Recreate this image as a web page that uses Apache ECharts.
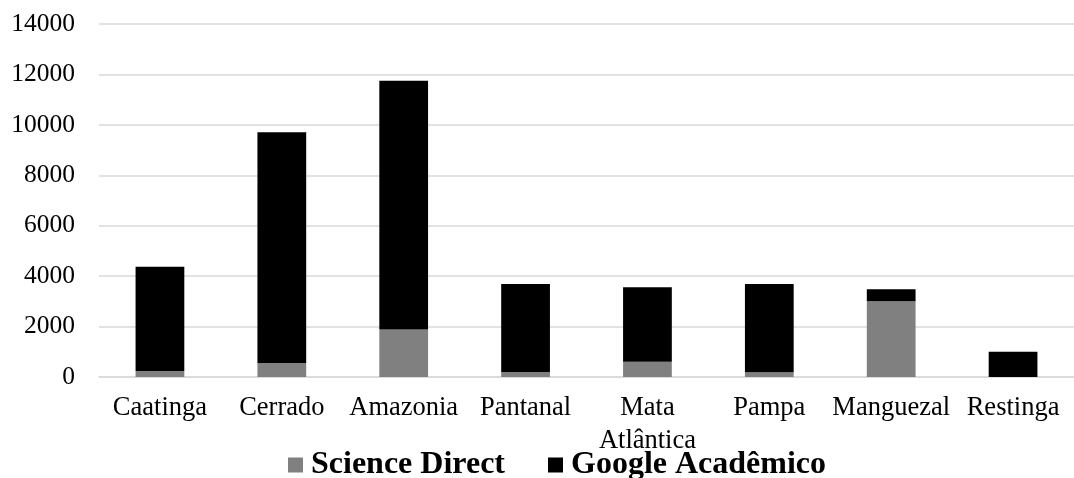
<!DOCTYPE html>
<html>
<head>
<meta charset="utf-8">
<script src="https://cdn.jsdelivr.net/npm/echarts@6/dist/echarts.min.js"></script>
<style>
  html, body { margin: 0; padding: 0; background: #ffffff; }
  #chart { width: 1074px; height: 478px; }
</style>
</head>
<body>
<div id="chart"></div>
<script>
// Biomes on the category axis
const biomes = ['Caatinga', 'Cerrado', 'Amazonia', 'Pantanal', 'Mata\nAtlântica', 'Pampa', 'Manguezal', 'Restinga'];
// Publication counts per source (stacked)
const scienceDirect = [240, 560, 1880, 200, 600, 190, 3000, 0];
const googleAcademico = [4130, 9150, 9870, 3490, 2960, 3500, 480, 1000];
// Value axis ticks
const yTicks = [0, 2000, 4000, 6000, 8000, 10000, 12000, 14000];

const FONT = '"Liberation Serif", "Times New Roman", serif';

const chart = echarts.init(document.getElementById('chart'), null, { renderer: 'canvas' });

chart.setOption({
  animation: false,
  backgroundColor: '#ffffff',
  textStyle: { fontFamily: FONT },
  grid: { left: 99, top: 24, width: 976, bottom: 101, containLabel: false },
  legend: {
    left: 288,
    top: 449,
    padding: 0,
    itemWidth: 15,
    itemHeight: 15,
    itemGap: 43,
    icon: 'rect',
    textStyle: {
      fontFamily: FONT, fontSize: 32, fontWeight: 'bold', color: '#000000',
      padding: [0, 0, 0, 3]
    },
    data: ['Science Direct', 'Google Acadêmico']
  },
  xAxis: {
    type: 'category',
    data: biomes,
    axisLine: { show: true, lineStyle: { color: '#d9d9d9', width: 1.5 } },
    axisTick: { show: false },
    axisLabel: {
      fontFamily: FONT,
      fontSize: 26.5,
      color: '#000000',
      margin: 15,
      lineHeight: 33,
      interval: 0
    }
  },
  yAxis: {
    type: 'value',
    min: yTicks[0],
    max: yTicks[yTicks.length - 1],
    interval: yTicks[1] - yTicks[0],
    axisLine: { show: false },
    axisTick: { show: false },
    splitLine: { lineStyle: { color: '#d9d9d9', width: 1.5 } },
    axisLabel: {
      fontFamily: FONT,
      fontSize: 25.5,
      color: '#000000',
      margin: 24,
      formatter: function (v) { return String(v); }
    }
  },
  series: [
    {
      name: 'Science Direct',
      type: 'bar',
      stack: 'total',
      barWidth: '40%',
      itemStyle: { color: '#808080' },
      data: scienceDirect
    },
    {
      name: 'Google Acadêmico',
      type: 'bar',
      stack: 'total',
      barWidth: '40%',
      itemStyle: { color: '#000000' },
      data: googleAcademico
    }
  ]
});
</script>
</body>
</html>
